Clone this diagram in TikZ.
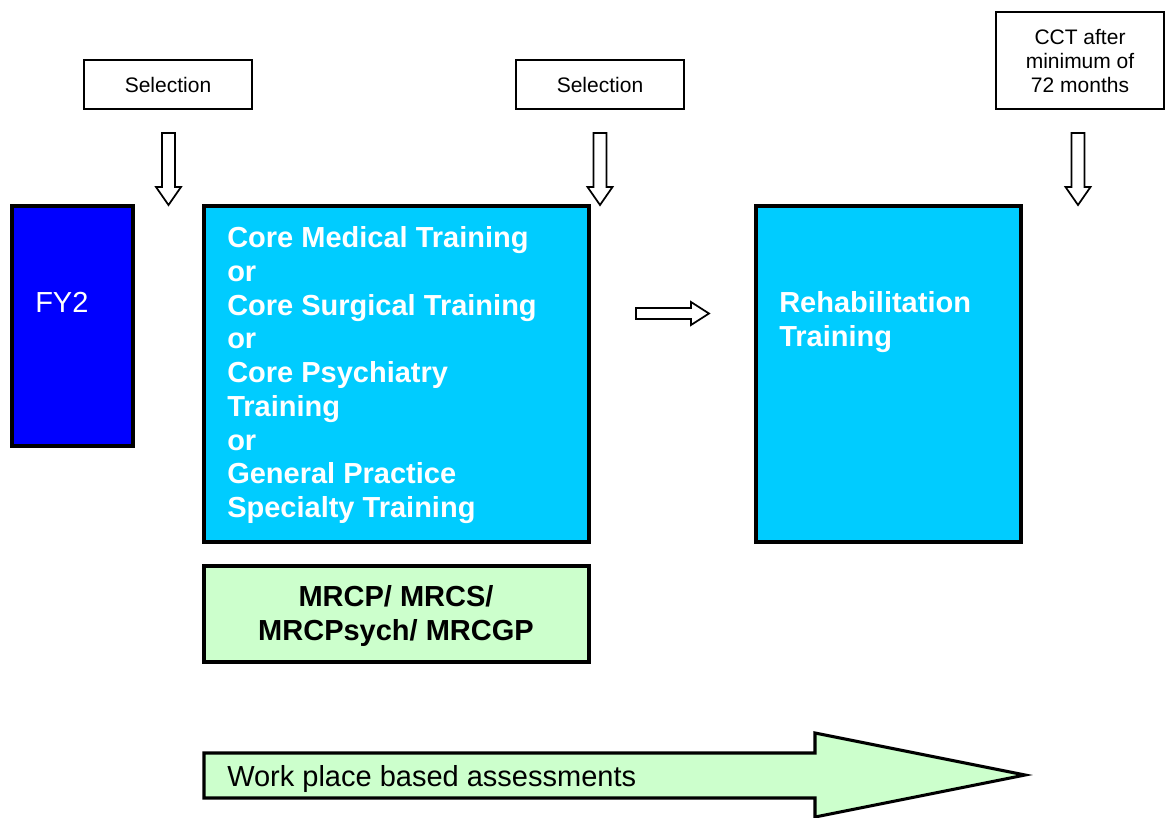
\documentclass[tikz,border=0pt]{standalone}
\usepackage{fontspec}
\setmainfont{Liberation Sans}
\definecolor{fyblue}{RGB}{0,0,255}
\definecolor{coreblue}{RGB}{0,204,255}
\definecolor{palegreen}{RGB}{204,255,204}
\newcommand{\smalltxt}{\fontsize{15.75}{18}\selectfont}
\newcommand{\bigtxt}{\fontsize{21.75}{25.3}\selectfont}
\begin{document}
\begin{tikzpicture}[x=0.75pt,y=0.75pt,yscale=-1,xscale=1,
  thinbox/.style={line width=1.1pt},
  thickbox/.style={line width=2.3pt},
  hollow/.style={line width=1.3pt, fill=white, line join=miter}]
\useasboundingbox (0,0) rectangle (1166,817);
%Shape: Rectangle [id:sel1]
\draw[thinbox] (84,60) rectangle (252,109);
\node[font=\smalltxt] (sel1) at (168,84.5) {Selection};
%Shape: Rectangle [id:sel2]
\draw[thinbox] (516,60) rectangle (684,109);
\node[font=\smalltxt] (sel2) at (600,84.5) {Selection};
%Shape: Rectangle [id:cct]
\draw[thinbox] (996,12) rectangle (1164,109);
\node[align=center, font=\smalltxt] (cct) at (1080,61) {CCT after\\minimum of\\72 months};
%Shape: Down Arrow
\foreach \cx in {168.5,600,1078} {
  \draw[hollow] (\cx-6.5,133) -- (\cx+6.5,133) -- (\cx+6.5,187) -- (\cx+12.5,187)
    -- (\cx,205) -- (\cx-12.5,187) -- (\cx-6.5,187) -- cycle;
}
%Shape: Rectangle [id:fy2]
\draw[thickbox, fill=fyblue] (12,206) rectangle (133,446);
\node[anchor=base west, inner sep=0, text=white, font=\bigtxt] (fy2) at (35,312.4) {FY2};
%Shape: Rectangle [id:core]
\draw[thickbox, fill=coreblue] (204,206) rectangle (589,542);
\node[anchor=north west, inner sep=0, align=left, text=white, font=\bigtxt\bfseries] (core) at (227,226.5) {Core Medical Training\\or\\Core Surgical Training\\or\\Core Psychiatry\\Training\\or\\General Practice\\Specialty Training};
%Shape: Right Arrow
\draw[hollow] (636,308) -- (691,308) -- (691,302) -- (709,313.5) -- (691,325)
  -- (691,319) -- (636,319) -- cycle;
%Shape: Rectangle [id:rehab]
\draw[thickbox, fill=coreblue] (756,206) rectangle (1021,542);
\node[anchor=north west, inner sep=0, align=left, text=white, font=\bigtxt\bfseries] (rehab) at (779,291.4) {Rehabilitation\\Training};
%Shape: Rectangle [id:exams]
\draw[thickbox, fill=palegreen] (204,566) rectangle (589,662);
\node[align=center, inner sep=0, font=\bigtxt\bfseries] (exams) at (396,616) {MRCP/ MRCS/\\MRCPsych/ MRCGP};
%Shape: Right Arrow [id:wpba]
\draw[thickbox, fill=palegreen, line join=miter] (204,753) -- (815,753) -- (815,733) -- (1025,775)
  -- (815,817) -- (815,798) -- (204,798) -- cycle;
\node[anchor=base west, inner sep=0, font=\bigtxt] (wpba) at (227,786.5) {Work place based assessments};
\end{tikzpicture}
\end{document}
